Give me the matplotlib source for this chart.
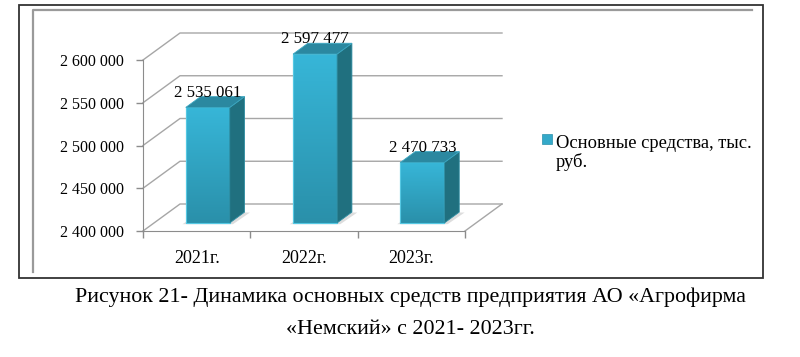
import numpy as np
import matplotlib.pyplot as plt
from matplotlib.patches import Polygon, Rectangle
from matplotlib.lines import Line2D
from matplotlib.colors import LinearSegmentedColormap

# data
years = ['2021г.', '2022г.', '2023г.']
values = [2535061, 2597477, 2470733]
value_labels = ['2 535 061', '2 597 477', '2 470 733']
yticks = [2400000, 2450000, 2500000, 2550000, 2600000]
ytick_labels = ['2 400 000', '2 450 000', '2 500 000', '2 550 000', '2 600 000']
series_name = ['Основные средства, тыс.', 'руб.']
caption1 = 'Рисунок 21- Динамика основных средств предприятия АО «Агрофирма'
caption2 = '«Немский» с 2021- 2023гг.'

plt.rcParams['font.family'] = ['Liberation Serif', 'DejaVu Serif']

W, H = 800, 357
fig = plt.figure(figsize=(W / 100, H / 100), dpi=100)

def fx(px):
    return px / W

def fy(py):
    return 1 - py / H

# frames
fig.add_artist(Rectangle((fx(19), fy(278)), fx(763) - fx(19), fy(5) - fy(278),
                         transform=fig.transFigure, fill=False, ec='#333333', lw=1.3))
fig.add_artist(Line2D([fx(33), fx(33), fx(752)], [fy(272), fy(10), fy(10)],
                      transform=fig.transFigure, color='#9a9a9a', lw=1.6))

# axes = front plane of the 3d box
ax = fig.add_axes([fx(143), fy(231), fx(465) - fx(143), fy(60) - fy(231)])
y0, y1 = yticks[0], yticks[-1]
ax.set_xlim(-0.5, 2.5)
ax.set_ylim(y0, y1)
ax.patch.set_alpha(0)

# depth offset in data units (~37 px right, 27 px up)
DX = 37 / 107.33
DY = 27 * (y1 - y0) / 171

grid_c = '#a6a6a6'
for v in yticks:
    ax.plot([-0.5, -0.5 + DX, 2.5 + DX], [v, v + DY, v + DY], color=grid_c, lw=1, clip_on=False, zorder=1)
ax.plot([2.5, 2.5 + DX], [y0, y0 + DY], color=grid_c, lw=1, clip_on=False, zorder=1)

# bars
x = np.arange(len(values))
bw = 0.41
f0, f1 = 0.3, 0.7
xl = x - bw / 2 + f0 * DX
bot = y0 + f0 * DY
heights = np.array(values) - y0
grad = np.linspace(0, 1, 100).reshape(-1, 1)
cmap = LinearSegmentedColormap.from_list('bar', ['#2a90aa', '#37b6d8'])
bars = ax.bar(xl, heights, width=bw, bottom=bot, align='edge', color='#31a7c7',
              edgecolor='#5fd0ea', lw=0.8, zorder=3, clip_on=False)
ddx, ddy = (f1 - f0) * DX, (f1 - f0) * DY
for i, b in enumerate(bars):
    l, r = b.get_x(), b.get_x() + b.get_width()
    t = b.get_y() + b.get_height()
    # shadow
    ax.add_patch(Polygon([(l - 0.03, bot - 1500), (r + 0.03, bot - 1500), (r + ddx + 0.05, bot + ddy - 500),
                          (l + ddx, bot + ddy)], closed=True, fc='#cfcfcf', ec='none', alpha=0.7,
                         zorder=2, clip_on=False))
    im = ax.imshow(grad, extent=(l, r, bot, t), origin='lower', cmap=cmap, aspect='auto', zorder=3.5)
    im.set_clip_path(b)
    ax.add_patch(Rectangle((l, bot), r - l, t - bot, fill=False, ec='#55c8e3', lw=0.8, zorder=4, clip_on=False))
    ax.add_patch(Polygon([(r, bot), (r + ddx, bot + ddy), (r + ddx, t + ddy), (r, t)], closed=True,
                         fc='#20707f', ec='#2f8ea3', lw=0.6, zorder=4, clip_on=False))
    ax.add_patch(Polygon([(l, t), (r, t), (r + ddx, t + ddy), (l + ddx, t + ddy)], closed=True,
                         fc='#2b88a0', ec='#3aa7c2', lw=0.6, zorder=4, clip_on=False))
    ax.text(l + bw / 2, t + ddy, value_labels[i], ha='center', va='baseline', fontsize=12.2,
            zorder=5, clip_on=False)

ax.set_xlim(-0.5, 2.5)
ax.set_ylim(y0, y1)

# axis styling
for s in ['top', 'right']:
    ax.spines[s].set_visible(False)
for s in ['left', 'bottom']:
    ax.spines[s].set_color('#8c8c8c')
ax.set_yticks(yticks)
ax.set_yticklabels(ytick_labels, fontsize=11.5)
ax.tick_params(axis='y', length=5, width=1, color='#8c8c8c', pad=9)
ax.set_xticks(x)
ax.set_xticklabels(years, fontsize=13)
ax.set_xticks([-0.5, 0.5, 1.5, 2.5], minor=True)
ax.tick_params(axis='x', which='major', length=0, pad=14)
ax.tick_params(axis='x', which='minor', length=5, width=1, color='#8c8c8c')

# legend
fig.add_artist(Rectangle((fx(542), fy(144)), fx(552) - fx(542), fy(134) - fy(144), transform=fig.transFigure,
                         fc='#34a9c9', ec='#2a90aa', lw=0.5))
fig.text(fx(556), fy(148), series_name[0], ha='left', va='baseline', fontsize=13.3)
fig.text(fx(556), fy(167), series_name[1], ha='left', va='baseline', fontsize=13.3)

# caption
fig.text(fx(410), fy(297), caption1, ha='center', va='center', fontsize=15.8)
fig.text(fx(410), fy(330), caption2, ha='center', va='center', fontsize=15.8)

fig.savefig('out.png', dpi=100)
